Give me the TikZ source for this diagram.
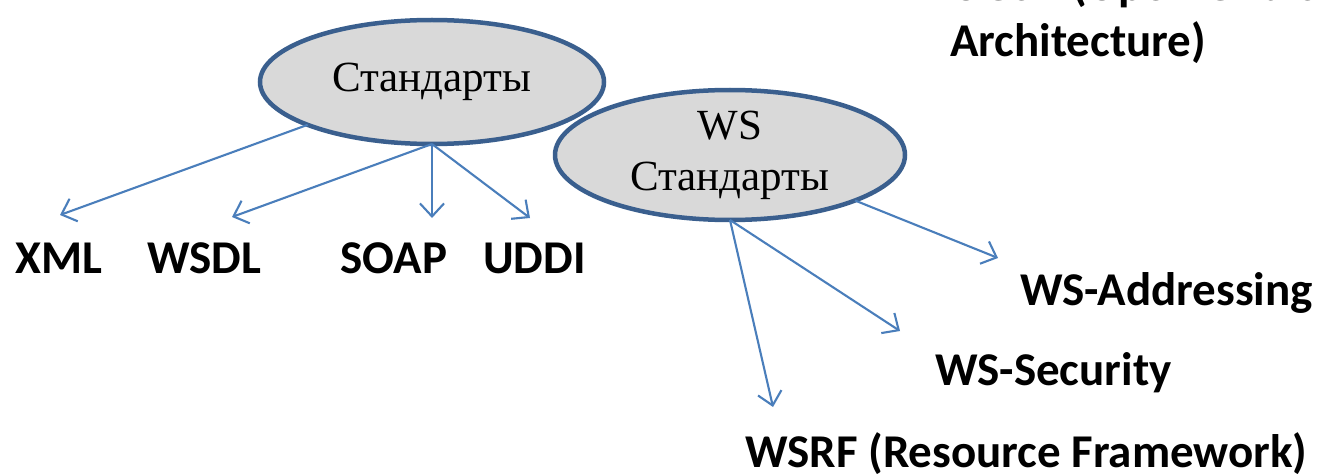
\documentclass[tikz,border=0pt]{standalone}
\usepackage{fontspec}
\setmainfont{Liberation Serif}
\newfontfamily\lblfont{Carlito}
\usetikzlibrary{shapes.geometric,arrows.meta}
\definecolor{ellborder}{HTML}{3A5F8E}
\definecolor{ellfill}{HTML}{D9D9D9}
\definecolor{arrowblue}{HTML}{4A7EBB}
\begin{document}
\begin{tikzpicture}[x=1pt,y=-1pt,
  ell/.style={ellipse,draw=ellborder,fill=ellfill,line width=4.5pt,inner sep=0pt,outer sep=0pt,font=\fontsize{43}{51}\selectfont,align=center},
  lbl/.style={anchor=base west,inner sep=0pt,font=\lblfont\bfseries\fontsize{47}{56}\selectfont},
  conn/.style={draw=arrowblue,line width=2.1pt,-{Straight Barb[length=13pt,width=24pt,line width=2.1pt]}}]
\useasboundingbox (0,0) rectangle (1328,476);
\node[ell,minimum width=344pt,minimum height=124pt] (e1) at (432,82) {Стандарты};
\node[ell,minimum width=350pt,minimum height=130pt] (e2) at (730,155) {WS\\Стандарты};
% labels
\node[lbl] (xml) at (15,273) {XML};
\node[lbl] (wsdl) at (147,273) {WSDL};
\node[lbl] (soap) at (340,273) {SOAP};
\node[lbl] (uddi) at (483,273) {UDDI};
\node[lbl] (wsa) at (1020,305) {WS-Addressing};
\node[lbl] (wss) at (935,385) {WS-Security};
\node[lbl] (wsrf) at (745,467) {WSRF (Resource Framework)};
\node[lbl] (soa1) at (950,1) {OGSA (Open Grid Services};
\node[lbl] (soa2) at (950,57) {Architecture)};
% arrow tips
\coordinate (txml) at (60,215);
\coordinate (twsdl) at (232,217);
\coordinate (tsoap) at (432,218);
\coordinate (tuddi) at (530,218);
\coordinate (twsa) at (998,258);
\coordinate (twss) at (900,331);
\coordinate (twsrf) at (773,407);
\draw[conn] (e1.199) -- (txml);
\draw[conn] (e1.south) -- (twsdl);
\draw[conn] (e1.south) -- (tsoap);
\draw[conn] (e1.south) -- (tuddi);
\draw[conn] (e2.-20) -- (twsa);
\draw[conn] (e2.south) -- (twss);
\draw[conn] (e2.south) -- (twsrf);
\end{tikzpicture}
\end{document}
